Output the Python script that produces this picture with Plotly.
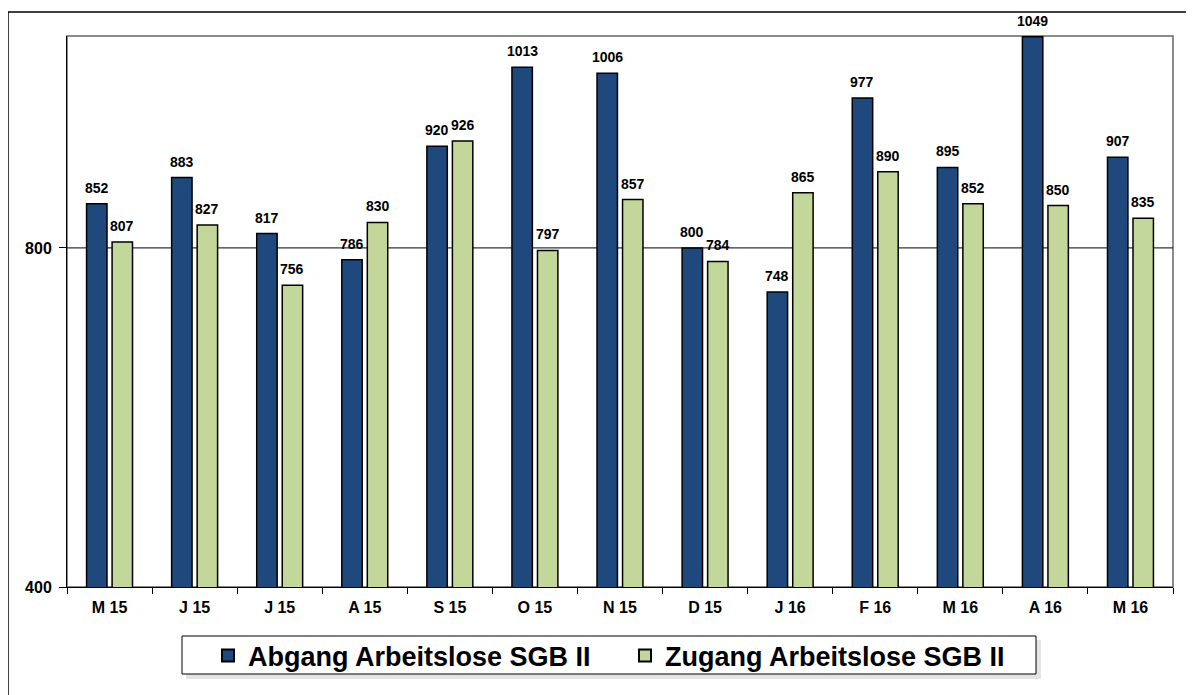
import plotly.graph_objects as go

months = ["M 15", "J 15", "J 15", "A 15", "S 15", "O 15", "N 15", "D 15", "J 16", "F 16", "M 16", "A 16", "M 16"]
abgang = [852, 883, 817, 786, 920, 1013, 1006, 800, 748, 977, 895, 1049, 907]
zugang = [807, 827, 756, 830, 926, 797, 857, 784, 865, 890, 852, 850, 835]
series_names = ["Abgang Arbeitslose SGB II", "Zugang Arbeitslose SGB II"]
y_ticks = [400, 800]

FONT = "Arial, 'Liberation Sans', sans-serif"
xs = list(range(len(months)))

# page offset (browser body margin)
OFF = 8
W, H = 1194 - OFF, 695 - OFF
# plot area in page pixels
PL, PT, PR, PB = 67, 36, 1173, 587
L, T = PL - OFF, PT - OFF
R, B = W - (PR - OFF), H - (PB - OFF)
pw, ph = W - L - R, H - T - B

def px_x(p):
    return (p - OFF - L) / pw

def px_y(p):
    return 1 - (p - OFF - T) / ph

BARGAP, GROUPGAP = 0.40, 0.20
cat_px = pw / len(months)
slot_px = cat_px * (1 - BARGAP) / 2

fig = go.Figure()
annotations = []
colors = ["#1F497D", "#C4D79B"]
for k, (name, vals) in enumerate([(series_names[0], abgang), (series_names[1], zugang)]):
    fig.add_trace(go.Bar(
        x=xs, y=vals, name=name,
        marker=dict(color=colors[k], line=dict(color="black", width=1.5)),
        cliponaxis=False,
    ))
    shift = (k - 0.5) * slot_px
    for xi, v in zip(xs, vals):
        annotations.append(dict(
            x=xi, y=v, xref="x", yref="y", text=str(v), showarrow=False,
            xanchor="center", yanchor="bottom", xshift=shift, yshift=6,
            font=dict(family=FONT, size=14, color="black", weight="bold"),
        ))

shapes = [
    dict(type="rect", xref="paper", yref="paper", x0=0, x1=1, y0=0, y1=1,
         line=dict(color="#666666", width=1.5), layer="below"),
    dict(type="line", xref="paper", yref="paper", x0=px_x(8), x1=px_x(1210), y0=px_y(12), y1=px_y(12),
         line=dict(color="black", width=1.5)),
    dict(type="line", xref="paper", yref="paper", x0=px_x(8), x1=px_x(8), y0=px_y(12), y1=px_y(710),
         line=dict(color="black", width=1.5)),
    dict(type="line", xref="paper", yref="y", x0=0, x1=1, y0=800, y1=800,
         line=dict(color="black", width=1), layer="below"),
    dict(type="rect", xref="paper", yref="paper", x0=px_x(186), x1=px_x(1041), y0=px_y(679), y1=px_y(640),
         line=dict(width=0), fillcolor="rgba(0,0,0,0.10)"),
    dict(type="rect", xref="paper", yref="paper", x0=px_x(182), x1=px_x(1036), y0=px_y(674), y1=px_y(636),
         line=dict(color="black", width=1), fillcolor="white"),
]

fig.update_layout(
    width=W, height=H,
    margin=dict(l=L, r=R, t=T, b=B),
    paper_bgcolor="white", plot_bgcolor="white",
    barmode="group", bargap=BARGAP, bargroupgap=GROUPGAP,
    font=dict(family=FONT, color="black"),
    shapes=shapes, annotations=annotations,
    showlegend=True,
    legend=dict(
        orientation="h", x=px_x(208), xanchor="left", y=px_y(656), yanchor="middle",
        bgcolor="rgba(0,0,0,0)", borderwidth=0,
        font=dict(family=FONT, size=27, color="black", weight="bold"),
        entrywidth=372, entrywidthmode="pixels", itemsizing="constant",
    ),
    xaxis=dict(
        range=[-0.5, len(months) - 0.5],
        tickmode="array", tickvals=xs, ticktext=months,
        ticks="", showgrid=False, zeroline=False,
        showline=True, linecolor="black", linewidth=1,
        tickfont=dict(family=FONT, size=16, color="black", weight="bold"),
        minor=dict(tickmode="linear", tick0=-0.5, dtick=1, ticks="outside", ticklen=6,
                   tickcolor="black", tickwidth=1, showgrid=False),
        ticklabelstandoff=6,
    ),
    yaxis=dict(
        range=[400, 1050], tickmode="array", tickvals=y_ticks,
        ticks="outside", ticklen=7, tickcolor="black", tickwidth=1,
        showgrid=False, zeroline=False,
        showline=True, linecolor="black", linewidth=1,
        tickfont=dict(family=FONT, size=16, color="black", weight="bold"),
        ticklabelstandoff=4,
    ),
)

fig.write_html("out.html")
